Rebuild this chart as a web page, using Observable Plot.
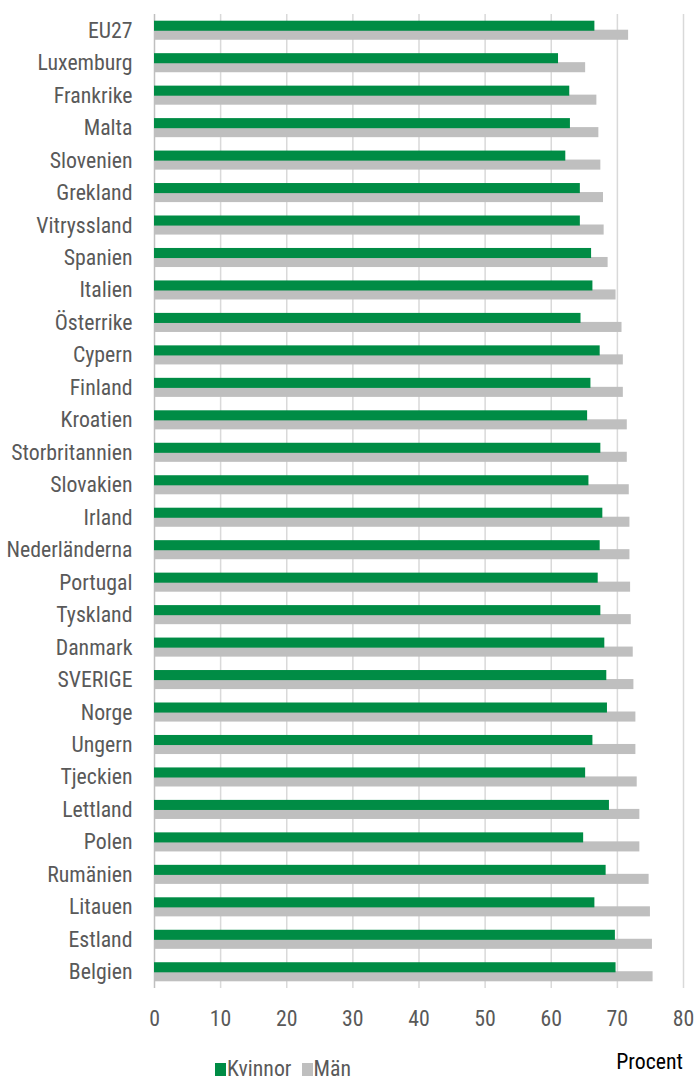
<!DOCTYPE html>
<html>
<head>
<meta charset="utf-8">
<script src="https://cdn.jsdelivr.net/npm/d3@7"></script>
<script src="https://cdn.jsdelivr.net/npm/@observablehq/plot@0.6"></script>
<style>
  html, body { margin: 0; padding: 0; background: #fff; }
  body { width: 694px; height: 1079px; overflow: hidden; font-family: "Roboto Condensed", "Open Sans", sans-serif; }
  #chart svg { display: block; }
  #legend { position: relative; width: 694px; height: 39px; font-size: 21.8px; color: #595959; }
  #legend .items { position: absolute; left: 215px; top: 18px; display: flex; align-items: center; line-height: 22px; }
  #legend .sw { display: inline-block; width: 11px; height: 13px; margin-right: 1px; }
  #legend .lb { display: inline-block; margin-right: 10px; }
  #legend .pc { position: absolute; right: 11px; top: 11px; line-height: 22px; color: #000; }
</style>
</head>
<body>
<div id="chart"></div>
<div id="legend"></div>
<script>
const countries = ["EU27","Luxemburg","Frankrike","Malta","Slovenien","Grekland","Vitryssland","Spanien","Italien","Österrike","Cypern","Finland","Kroatien","Storbritannien","Slovakien","Irland","Nederländerna","Portugal","Tyskland","Danmark","SVERIGE","Norge","Ungern","Tjeckien","Lettland","Polen","Rumänien","Litauen","Estland","Belgien"];
const kvinnor = [66.6,61.1,62.8,62.9,62.2,64.4,64.4,66.1,66.3,64.5,67.4,66.0,65.5,67.5,65.7,67.8,67.4,67.1,67.5,68.1,68.4,68.5,66.3,65.2,68.8,64.9,68.3,66.6,69.7,69.8];
const man = [71.7,65.2,66.9,67.2,67.5,67.9,68.0,68.6,69.8,70.7,70.9,70.9,71.5,71.5,71.8,71.9,71.9,72.0,72.1,72.4,72.5,72.8,72.8,73.0,73.4,73.4,74.8,75.0,75.3,75.4];
const xTicks = [0,10,20,30,40,50,60,70,80];
const seriesNames = ["Kvinnor","Män"];
const colors = ["#008C45","#BFBFBF"];

const dataK = countries.map((c,i) => ({country: c, value: kvinnor[i]}));
const dataM = countries.map((c,i) => ({country: c, value: man[i]}));

const font = "'Roboto Condensed', 'Open Sans', sans-serif";

const plot = Plot.plot({
  width: 694,
  height: 1040,
  marginLeft: 154,
  marginRight: 11,
  marginTop: 14,
  marginBottom: 52,
  style: {fontFamily: font, fontSize: "21.8px", color: "#595959", background: "#fff"},
  x: {domain: [0, 80], ticks: xTicks, label: null},
  y: {domain: countries, padding: 0, round: false, label: null},
  marks: [
    Plot.ruleX(xTicks.filter(d => d > 0), {stroke: "#d9d9d9", strokeWidth: 1.5}),
    Plot.ruleX([0], {stroke: "#bfbfbf", strokeWidth: 1.5}),
    Plot.barX(dataM, {y: "country", x: "value", fill: colors[1], insetTop: 15.7, insetBottom: 6.7}),
    Plot.barX(dataK, {y: "country", x: "value", fill: colors[0], insetTop: 6.7, insetBottom: 15.7}),
    Plot.axisY({tickSize: 0, tickPadding: 22, fontSize: 21.8, fill: "#595959", label: null}),
    Plot.axisX({ticks: xTicks, tickSize: 0, tickPadding: 22, fontSize: 21.8, fill: "#595959", label: null})
  ]
});
document.getElementById("chart").appendChild(plot);

const leg = document.getElementById("legend");
const row = document.createElement("div");
row.className = "items";
seriesNames.forEach((name, i) => {
  const sw = document.createElement("span");
  sw.className = "sw"; sw.style.background = colors[i];
  row.appendChild(sw);
  const lb = document.createElement("span");
  lb.className = "lb"; lb.textContent = name;
  row.appendChild(lb);
});
leg.appendChild(row);
const pc = document.createElement("div");
pc.className = "pc"; pc.textContent = "Procent";
leg.appendChild(pc);
</script>
</body>
</html>
